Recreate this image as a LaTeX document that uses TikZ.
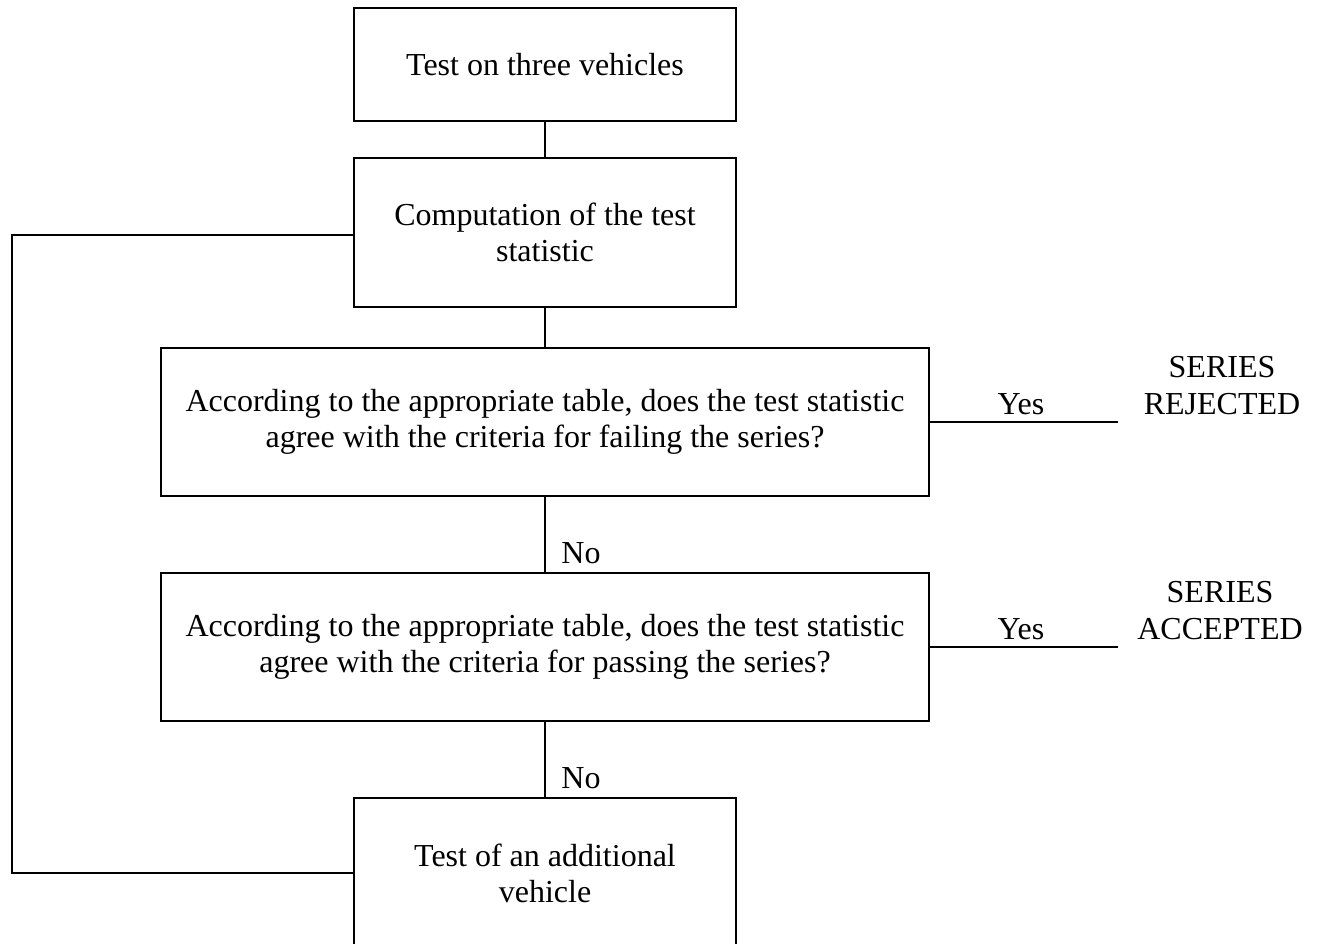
\documentclass[tikz,border=0pt]{standalone}
\usepackage{fontspec}
\setmainfont{Liberation Serif}
\begin{document}
\begin{tikzpicture}[x=1pt,y=-1pt,line width=2.9pt,
  box/.style={draw,line width=2.9pt,align=center,inner sep=0pt,font=\fontsize{32}{36}\selectfont},
  lbl/.style={align=center,inner sep=0pt,font=\fontsize{32}{37}\selectfont}]
\useasboundingbox (0,0) rectangle (1322,943);
\clip (0,0) rectangle (1322,943);
\node[box,minimum width=382pt,minimum height=113pt] (b1) at (545,64.5) {Test on three vehicles};
\node[box,minimum width=382pt,minimum height=149pt] (b2) at (545,232.5) {Computation of the test\\statistic};
\node[box,minimum width=768pt,minimum height=148pt] (b3) at (545,422) {According to the appropriate table, does the test statistic\\agree with the criteria for failing the series?};
\node[box,minimum width=768pt,minimum height=148pt] (b4) at (545,647) {According to the appropriate table, does the test statistic\\agree with the criteria for passing the series?};
\node[box,minimum width=382pt,minimum height=150pt] (b5) at (545,873) {Test of an additional\\vehicle};
\draw (b1.south) -- (b2.north);
\draw (b2.south) -- (b3.north);
\draw (b3.south) -- (b4.north);
\draw (b4.south) -- (b5.north);
\coordinate (L) at (12,873);
\coordinate (L2) at (12,235);
\draw (b5.west) -- (L) -- (L2) -- (b2.west |- L2);
\coordinate (r1) at (1118,422);
\coordinate (r2) at (1118,647);
\draw (b3.east) -- (r1);
\draw (b4.east) -- (r2);
\node[lbl,anchor=base] (y1) at (1021,414) {Yes};
\node[lbl,anchor=base] (y2) at (1021,639) {Yes};
\node[lbl,anchor=base] (n1) at (581,563) {No};
\node[lbl,anchor=base] (n2) at (581,788) {No};
\node[lbl,anchor=base] (s1a) at (1222,377) {SERIES};
\node[lbl,anchor=base] (s1b) at (1222,414) {REJECTED};
\node[lbl,anchor=base] (s2a) at (1220,602) {SERIES};
\node[lbl,anchor=base] (s2b) at (1220,639) {ACCEPTED};
\end{tikzpicture}
\end{document}
